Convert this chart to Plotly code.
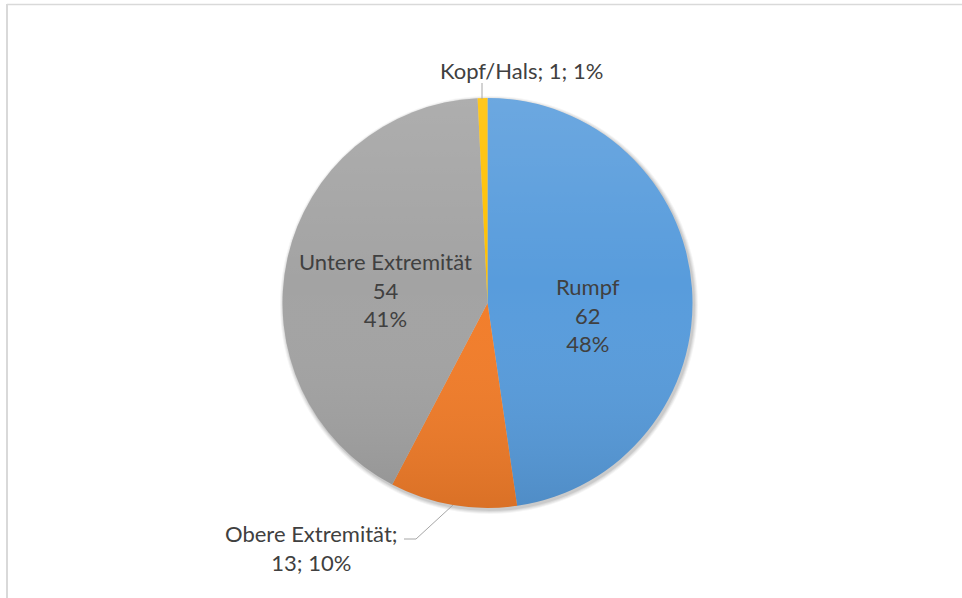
import base64
import plotly.graph_objects as go

# Verteilung der Lokalisationen
labels = ["Rumpf", "Obere Extremität", "Untere Extremität", "Kopf/Hals"]
values = [62, 13, 54, 1]
percents = [48, 10, 41, 1]
colors = ["#589CDC", "#F27D2A", "#A3A3A3", "#FFC000"]

W, H = 962, 598
CX, CY, R = 487.5, 303.0, 205.0
FONT = "Lato"
TXT = "#404040"


def px(x):
    return x / W


def py(y):
    return 1 - y / H


fig = go.Figure()
fig.add_trace(go.Pie(
    labels=labels,
    values=values,
    sort=False,
    direction="clockwise",
    rotation=0,
    marker=dict(colors=colors, line=dict(width=0)),
    textinfo="none",
    hoverinfo="label+value+percent",
    showlegend=False,
    domain=dict(x=[px(CX - R), px(CX + R)], y=[py(CY + R), py(CY - R)]),
))

shapes = []
# soft drop shadow under the pie
for i, a in enumerate([0.04, 0.05, 0.06, 0.07]):
    r = R + 4 - i
    shapes.append(dict(type="circle", xref="paper", yref="paper", layer="below",
                       x0=px(CX + 1.5 - r), x1=px(CX + 1.5 + r),
                       y0=py(CY + 2 + r), y1=py(CY + 2 - r),
                       fillcolor=f"rgba(0,0,0,{a})", line=dict(width=0)))
# chart frame
shapes.append(dict(type="line", xref="paper", yref="paper",
                   x0=px(7), x1=1, y0=py(4.5), y1=py(4.5),
                   line=dict(color="#D9D9D9", width=1.5)))
shapes.append(dict(type="line", xref="paper", yref="paper",
                   x0=px(7), x1=px(7), y0=py(4), y1=0,
                   line=dict(color="#D9D9D9", width=2)))
# leader lines for outside labels
shapes.append(dict(type="line", xref="paper", yref="paper",
                   x0=px(482), x1=px(482), y0=py(83), y1=py(99),
                   line=dict(color="#A6A6A6", width=1)))
shapes.append(dict(type="path", xref="paper", yref="paper",
                   path=f"M {px(404)} {py(539)} L {px(416)} {py(539)} L {px(453)} {py(505)}",
                   line=dict(color="#A6A6A6", width=1)))

# vertical light-to-dark shading laid over the pie
d = int(2 * R)
shade_svg = (
    f"<svg xmlns='http://www.w3.org/2000/svg' width='{d}' height='{d}' viewBox='0 0 {d} {d}'>"
    "<defs><linearGradient id='g' x1='0' y1='0' x2='0' y2='1'>"
    "<stop offset='0' stop-color='white' stop-opacity='0.12'/>"
    "<stop offset='0.45' stop-color='white' stop-opacity='0'/>"
    "<stop offset='1' stop-color='black' stop-opacity='0.10'/>"
    "</linearGradient></defs>"
    f"<circle cx='{R}' cy='{R}' r='{R}' fill='url(#g)'/></svg>"
)
shade_src = "data:image/svg+xml;base64," + base64.b64encode(shade_svg.encode()).decode()
images = [dict(source=shade_src, xref="paper", yref="paper",
               x=px(CX - R), y=py(CY - R), sizex=2 * R / W, sizey=2 * R / H,
               xanchor="left", yanchor="top", sizing="stretch", layer="above")]

annotations = []
inside_pos = {0: (588, 315), 2: (385.5, 290)}
for i, (x, y) in inside_pos.items():
    annotations.append(dict(
        x=px(x), y=py(y), xref="paper", yref="paper", showarrow=False,
        xanchor="center", yanchor="middle", align="center",
        text=f"{labels[i]}<br>{values[i]}<br>{percents[i]}%",
        font=dict(family=FONT, size=22, color=TXT)))

annotations.append(dict(
    x=px(521), y=py(70), xref="paper", yref="paper", showarrow=False,
    xanchor="center", yanchor="middle",
    text=f"{labels[3]}; {values[3]}; {percents[3]}%",
    font=dict(family=FONT, size=22, color=TXT)))
annotations.append(dict(
    x=px(311.5), y=py(547.5), xref="paper", yref="paper", showarrow=False,
    xanchor="center", yanchor="middle", align="center",
    text=f"{labels[1]};<br>{values[1]}; {percents[1]}%",
    font=dict(family=FONT, size=22, color=TXT)))

fig.update_layout(
    width=W, height=H,
    margin=dict(l=0, r=0, t=0, b=0),
    paper_bgcolor="white",
    plot_bgcolor="white",
    shapes=shapes,
    images=images,
    annotations=annotations,
)

fig.write_html("out.html")
